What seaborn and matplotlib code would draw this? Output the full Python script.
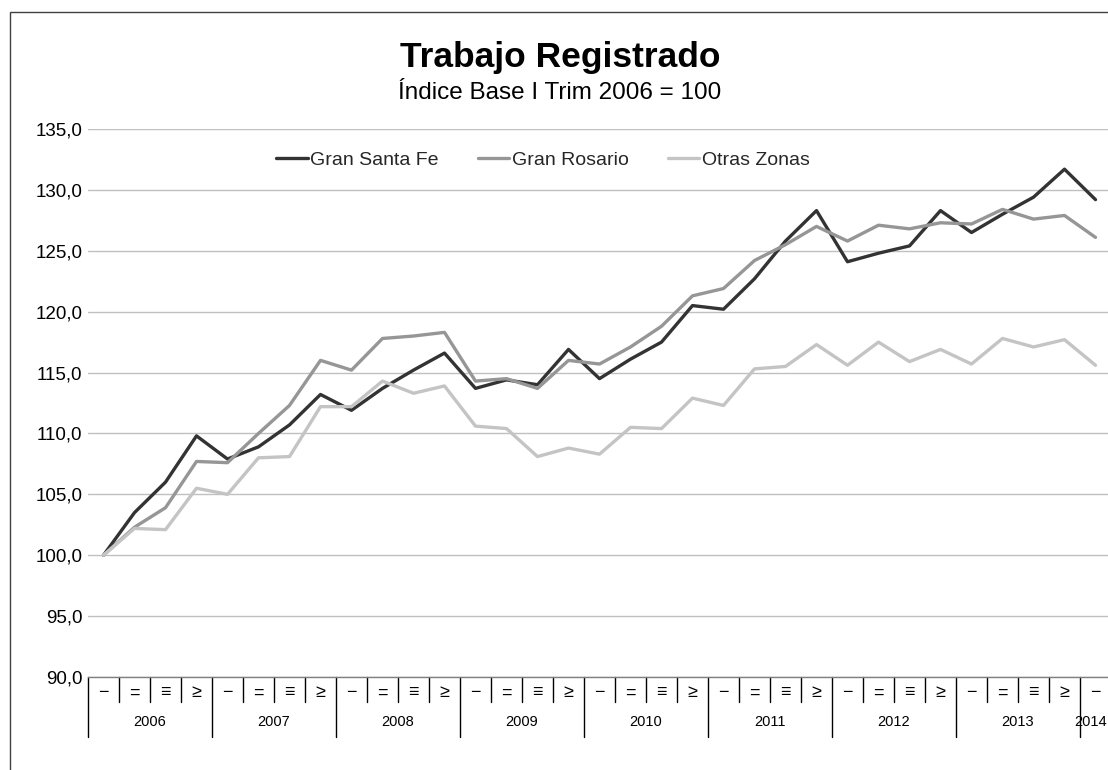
import numpy as np
import pandas as pd
import matplotlib
matplotlib.use("Agg")
import matplotlib.pyplot as plt
import matplotlib.transforms as mtransforms
from matplotlib.patches import Rectangle
from matplotlib.ticker import FuncFormatter, MultipleLocator
import seaborn as sns

# Quarterly index, base 2006 Q1 = 100
years = ["2006", "2007", "2008", "2009", "2010", "2011", "2012", "2013", "2014"]
quarter_marks = ["\u2212", "=", "\u2261", "\u2265"]
series_names = ["Gran Santa Fe", "Gran Rosario", "Otras Zonas"]

santa_fe = [100.0, 103.5, 106.0, 109.8, 107.9, 108.9, 110.7, 113.2,
            111.9, 113.7, 115.2, 116.6, 113.7, 114.4, 114.0, 116.9,
            114.5, 116.1, 117.5, 120.5, 120.2, 122.7, 125.8, 128.3,
            124.1, 124.8, 125.4, 128.3, 126.5, 128.0, 129.4, 131.7,
            129.2]
rosario = [100.0, 102.3, 103.9, 107.7, 107.6, 110.0, 112.3, 116.0,
           115.2, 117.8, 118.0, 118.3, 114.3, 114.5, 113.7, 116.0,
           115.7, 117.1, 118.8, 121.3, 121.9, 124.2, 125.5, 127.0,
           125.8, 127.1, 126.8, 127.3, 127.2, 128.4, 127.6, 127.9,
           126.1]
otras = [100.0, 102.2, 102.1, 105.5, 105.0, 108.0, 108.1, 112.2,
         112.2, 114.3, 113.3, 113.9, 110.6, 110.4, 108.1, 108.8,
         108.3, 110.5, 110.4, 112.9, 112.3, 115.3, 115.5, 117.3,
         115.6, 117.5, 115.9, 116.9, 115.7, 117.8, 117.1, 117.7,
         115.6]

n = len(santa_fe)
df = pd.DataFrame({
    "periodo": list(range(n)) * 3,
    "indice": santa_fe + rosario + otras,
    "zona": np.repeat(series_names, n),
})

sns.set_theme(style="white")
plt.rcParams["font.family"] = ["Liberation Sans", "DejaVu Sans"]

W, H = 1108, 770
fig = plt.figure(figsize=(W / 100, H / 100), dpi=100)
fig.patch.set_facecolor("white")

# outer frame of the chart area
fig.add_artist(Rectangle((10 / W, -0.05), 1.1, (H - 12) / H + 0.05,
                         transform=fig.transFigure, fill=False,
                         edgecolor="#404040", linewidth=1.0))

ax_left, ax_bottom = 88 / W, (H - 677) / H
ax = fig.add_axes([ax_left, ax_bottom, 1023 / W, 548 / H])

palette = {"Gran Santa Fe": "#333333", "Gran Rosario": "#969696",
           "Otras Zonas": "#c4c4c4"}
sns.lineplot(data=df, x="periodo", y="indice", hue="zona",
             hue_order=series_names, palette=palette, linewidth=2.4,
             ax=ax)

ax.set_ylim(90, 135)
ax.set_xlim(-0.5, n - 0.5)
ax.yaxis.set_major_locator(MultipleLocator(5))
ax.yaxis.set_major_formatter(FuncFormatter(lambda v, p: f"{v:.1f}".replace(".", ",")))
ax.tick_params(axis="y", length=0, pad=4, labelsize=13.5, labelcolor="black")
ax.set_xticks([])
ax.set_xlabel("")
ax.set_ylabel("")
ax.grid(axis="y", color="#c0c0c0", linewidth=1)
ax.set_axisbelow(True)
for side in ["left", "right", "top"]:
    ax.spines[side].set_visible(False)
ax.spines["bottom"].set_color("#808080")
ax.spines["bottom"].set_linewidth(1)

# two-level category axis: quarters and years
trans = mtransforms.blended_transform_factory(ax.transData, ax.transAxes)
for i in range(n + 1):
    depth = -0.11 if i % 4 == 0 else -0.045
    ax.plot([i - 0.5, i - 0.5], [0, depth], transform=trans, clip_on=False,
            color="#000000", linewidth=1)
for i in range(n):
    ax.text(i, -0.029, quarter_marks[i % 4], transform=trans, ha="center",
            va="center", fontsize=13, color="black")
edge_trans = mtransforms.blended_transform_factory(fig.transFigure, ax.transAxes)
for k, yr in enumerate(years):
    start = 4 * k
    end = min(start + 4, n)
    if end - start < 4:
        # partial year group at the right edge: keep the label inside the figure
        ax.text(0.999, -0.083, yr, transform=edge_trans, ha="right",
                va="center", fontsize=10.5, color="black")
    else:
        ax.text((start + end - 1) / 2, -0.083, yr, transform=trans, ha="center",
                va="center", fontsize=10.5, color="black")

sns.move_legend(ax, "center", bbox_to_anchor=((543 - 88) / 1023, (677 - 160) / 548),
                ncol=3, frameon=False, title=None, fontsize=14,
                handlelength=1.6, handletextpad=0.15, columnspacing=2.0)

fig.text(560 / W, (H - 58) / H, "Trabajo Registrado", ha="center", va="center",
         fontsize=25.5, fontweight="bold", color="black")
fig.text(560 / W, (H - 93) / H, "\u00cdndice Base I Trim 2006 = 100", ha="center",
         va="center", fontsize=17.5, color="black")

fig.savefig("out.png", dpi=100, facecolor="white")
